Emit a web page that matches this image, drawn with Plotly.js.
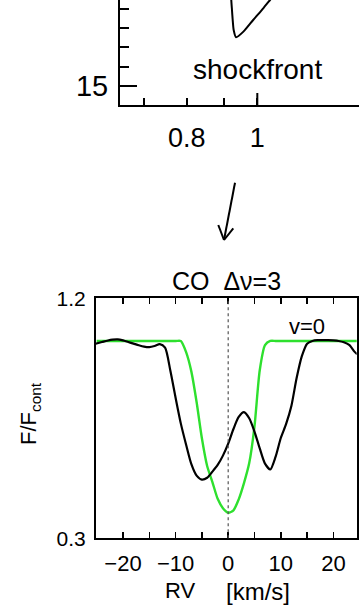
<!DOCTYPE html>
<html>
<head>
<meta charset="utf-8">
<script src="https://cdn.plot.ly/plotly-3.0.1.min.js"></script>
<style>html,body{margin:0;padding:0;background:#fff;}#chart{width:359px;height:606px;}</style>
</head>
<body>
<div id="chart"></div>
<script>
// ---- data: upper panel (shockfront track) ----
const shockX = [0.920, 0.921, 0.923, 0.925, 0.928, 0.935, 0.957, 0.987, 1.019, 1.041, 1.067];
const shockY = [16.00, 15.89, 15.79, 15.69, 15.58, 15.505, 15.563, 15.684, 15.805, 15.891, 15.99];
const shockXTicks = [0.8, 1];
const shockXTickText = ['0.8', '1'];
const shockXMinor = [0.7, 0.9];
const shockYTicks = [15];

// ---- data: lower panel (CO Δν=3 line profile) ----
const greenV = [-25, -20, -15, -10, -9, -8, -7, -6, -5, -4, -3, -2, -1, 0, 1, 2, 3, 4, 5, 6, 7, 8, 9, 10, 15, 20, 24.5];
const greenF = [1.04, 1.04, 1.04, 1.04, 1.04, 0.998, 0.925, 0.81, 0.675, 0.571, 0.511, 0.448, 0.413, 0.396, 0.405, 0.446, 0.507, 0.582, 0.72, 0.93, 1.024, 1.04, 1.04, 1.04, 1.04, 1.04, 1.04];
const blackV = [-25.2, -24, -23, -22, -21, -20, -19, -18, -17, -16, -15, -14, -13, -12, -11, -10, -9, -8, -7, -6, -5, -4, -3, -2, -1, 0, 1, 2, 3, 4, 5, 6, 7, 8, 9, 10, 11, 12, 13, 14, 15, 16, 17, 18, 19, 20, 21, 22, 23, 24, 24.5];
const blackF = [1.030, 1.036, 1.041, 1.045, 1.046, 1.042, 1.036, 1.030, 1.024, 1.019, 1.017, 1.021, 1.028, 1.015, 0.929, 0.827, 0.73, 0.651, 0.578, 0.535, 0.52, 0.527, 0.55, 0.575, 0.61, 0.655, 0.71, 0.755, 0.773, 0.75, 0.70, 0.637, 0.58, 0.558, 0.605, 0.676, 0.728, 0.795, 0.90, 0.983, 1.03, 1.04, 1.043, 1.043, 1.043, 1.042, 1.040, 1.035, 1.025, 1.0, 0.99];
const rvTicks = [-20, -10, 0, 10, 20];
const rvTickText = ['\u221220', '\u221210', '0', '10', '20'];
const rvMinor = [-15, -5, 5, 15];
const fluxTicks = [0.3, 1.2];
const fluxTickText = ['0.3', '1.2'];

// ---- layout helpers (pixel -> paper) ----
const W = 359, H = 606;
const px = x => x / W;
const py = y => 1 - y / H;
const FONT = 'Liberation Sans, Arial, Helvetica, sans-serif';

const traces = [
  {x: shockX, y: shockY, xaxis: 'x2', yaxis: 'y2', mode: 'lines', line: {color: '#000', width: 2, shape: 'spline', smoothing: 0.6}, hoverinfo: 'skip'},
  {x: greenV, y: greenF, xaxis: 'x', yaxis: 'y', mode: 'lines', line: {color: '#2ee02e', width: 2.4, shape: 'spline', smoothing: 0.7}, hoverinfo: 'skip'},
  {x: blackV, y: blackF, xaxis: 'x', yaxis: 'y', mode: 'lines', line: {color: '#000', width: 2.2, shape: 'spline', smoothing: 0.7}, hoverinfo: 'skip'}
];

const arrowLine = (x0, y0, x1, y1) => ({type: 'line', xref: 'paper', yref: 'paper', x0: px(x0), y0: py(y0), x1: px(x1), y1: py(y1), line: {color: '#000', width: 2}});

const layout = {
  width: W, height: H,
  margin: {l: 0, r: 0, t: 0, b: 0},
  paper_bgcolor: '#fff', plot_bgcolor: '#fff',
  showlegend: false,
  font: {family: FONT, color: '#000'},
  // upper panel
  xaxis2: {
    domain: [px(120), 1], anchor: 'y2', type: 'log', range: [-0.1885, 0.1396],
    showline: true, linecolor: '#000', linewidth: 2, mirror: false,
    showgrid: false, zeroline: false,
    tickmode: 'array', tickvals: shockXTicks, ticktext: shockXTickText,
    ticks: 'inside', ticklen: 7, tickwidth: 2, tickcolor: '#000',
    ticklabelstandoff: 8,
    minor: {tickmode: 'array', tickvals: shockXMinor, ticks: 'inside', ticklen: 7, tickwidth: 2, tickcolor: '#000', showgrid: false},
    tickfont: {size: 27, family: FONT}
  },
  yaxis2: {
    domain: [py(105), 1], anchor: 'x2', range: [14.803, 15.891],
    showline: true, linecolor: '#000', linewidth: 2,
    showgrid: false, zeroline: false,
    tickmode: 'array', tickvals: shockYTicks, ticktext: ['15'],
    ticks: 'inside', ticklen: 17, tickwidth: 2, tickcolor: '#000',
    ticklabelstandoff: 4,
    minor: {dtick: 0.2, ticks: 'inside', ticklen: 9, tickwidth: 2, tickcolor: '#000', showgrid: false},
    tickfont: {size: 29, family: FONT}
  },
  // lower panel
  xaxis: {
    domain: [px(96), px(356.7)], anchor: 'y', range: [-25.13, 24.43],
    showline: true, linecolor: '#000', linewidth: 2, mirror: 'ticks',
    showgrid: false, zeroline: false,
    tickmode: 'array', tickvals: rvTicks, ticktext: rvTickText,
    ticks: 'inside', ticklen: 6, tickwidth: 1.5, tickcolor: '#000',
    ticklabelstandoff: 4,
    minor: {tickmode: 'array', tickvals: rvMinor, ticks: 'inside', ticklen: 6, tickwidth: 1.5, tickcolor: '#000', showgrid: false},
    tickfont: {size: 22, family: FONT}
  },
  yaxis: {
    domain: [py(538.3), py(298.3)], anchor: 'x', range: [0.3, 1.2],
    showline: true, linecolor: '#000', linewidth: 2, mirror: true,
    showgrid: false, zeroline: false,
    tickmode: 'array', tickvals: fluxTicks, ticktext: fluxTickText,
    ticks: '', ticklabelstandoff: 4,
    tickfont: {size: 21, family: FONT}
  },
  shapes: [
    // dotted v=0 reference line
    {type: 'line', xref: 'x', yref: 'y domain', x0: 0, x1: 0, y0: 0, y1: 1, line: {color: '#555', width: 1.2, dash: 'dot'}},
    // longer tick at 1 on upper log axis
    {type: 'line', xref: 'x2', yref: 'paper', x0: 1, x1: 1, y0: py(105), y1: py(93), line: {color: '#000', width: 2}},
    // arrow between panels
    arrowLine(235, 182.7, 224, 240),
    arrowLine(218.3, 225, 224, 240),
    arrowLine(233.3, 228.3, 224, 240)
  ],
  annotations: [
    {xref: 'paper', yref: 'paper', x: px(111), y: py(-10.5), text: '16', showarrow: false, xanchor: 'right', yanchor: 'middle', font: {size: 29, family: FONT}},
    {xref: 'paper', yref: 'paper', x: px(257), y: py(70), text: 'shockfront', showarrow: false, xanchor: 'center', yanchor: 'middle', font: {size: 28, family: FONT}},
    {xref: 'paper', yref: 'paper', x: px(226), y: py(280.5), text: 'CO\u00a0\u00a0\u0394\u03bd=3', showarrow: false, xanchor: 'center', yanchor: 'middle', font: {size: 25, family: FONT}},
    {xref: 'paper', yref: 'paper', x: px(307), y: py(326), text: 'v=0', showarrow: false, xanchor: 'center', yanchor: 'middle', font: {size: 22, family: FONT}},
    {xref: 'paper', yref: 'paper', x: px(30), y: py(414), text: 'F/F<sub>cont</sub>', textangle: -90, showarrow: false, xanchor: 'center', yanchor: 'middle', font: {size: 22, family: FONT}},
    {xref: 'paper', yref: 'paper', x: px(180), y: py(590), text: 'RV', showarrow: false, xanchor: 'center', yanchor: 'middle', font: {size: 22, family: FONT}},
    {xref: 'paper', yref: 'paper', x: px(258), y: py(591), text: '[km/s]', showarrow: false, xanchor: 'center', yanchor: 'middle', font: {size: 24, family: FONT}}
  ]
};

Plotly.newPlot('chart', traces, layout, {displayModeBar: false, staticPlot: true});
</script>
</body>
</html>
